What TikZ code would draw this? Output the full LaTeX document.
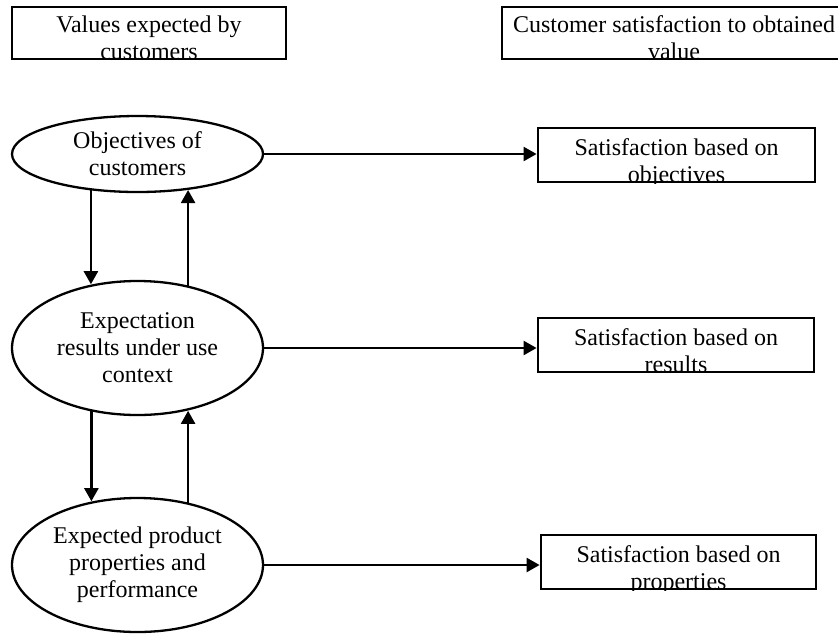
\documentclass[tikz,border=0pt]{standalone}
\usepackage{fontspec}
\setmainfont{Liberation Serif}
\usetikzlibrary{shapes.geometric,arrows.meta}
\begin{document}
\begin{tikzpicture}[x=1pt,y=1pt,
  every node/.style={font=\fontsize{24}{27}\selectfont},
  panel/.style={draw, line width=2.8pt, rectangle, inner sep=0pt},
  goal/.style={draw, ellipse, line width=2.3pt, inner sep=0pt, minimum width=251pt},
  caption/.style={align=center, inner sep=0pt, anchor=base},
  words/.style={align=center, inner sep=0pt},
  link/.style={line width=2.3pt, -{Triangle[length=13pt,width=14pt]}}]
\useasboundingbox (0,0) rectangle (838,-633);

% column headings
\node[panel, minimum width=274pt, minimum height=52pt] (vals) at (149,-33) {};
\node[panel, minimum width=344pt, minimum height=52pt] (sat) at (674,-33) {};
\begin{scope}
  \clip (vals.south west) rectangle (vals.north east);
  \node[caption] (valstext) at ([yshift=1pt]vals.south) {Values expected by\\customers};
\end{scope}
\begin{scope}
  \clip (sat.south west) rectangle (sat.north east);
  \node[caption] (sattext) at ([yshift=1pt]sat.south) {Customer satisfaction to obtained\\value};
\end{scope}

% expectation levels
\node[goal, minimum height=76pt] (obj) at (137.5,-154) {};
\node[words] (objtext) at (obj) {Objectives of\\customers};
\node[goal, minimum height=134pt] (exp) at (137.5,-348) {};
\node[words] (exptext) at (exp) {Expectation\\results under use\\context};
\node[goal, minimum height=134pt] (prod) at (137.5,-565) {};
\node[words] (prodtext) at (prod) {Expected product\\properties and\\performance};

% satisfaction boxes
\node[panel, minimum width=277pt, minimum height=54pt] (sobj) at (676.5,-155) {};
\node[panel, minimum width=276pt, minimum height=54pt] (sres) at (676,-345) {};
\node[panel, minimum width=275pt, minimum height=54pt] (sprop) at (678.5,-562) {};
\foreach \b/\t in {sobj/{Satisfaction based on\\objectives},
                   sres/{Satisfaction based on\\results},
                   sprop/{Satisfaction based on\\properties}}{
  \begin{scope}
    \clip (\b.south west) rectangle (\b.north east);
    \node[caption] (\b text) at ([yshift=1pt]\b.south) {\t};
  \end{scope}
}

% horizontal links
\draw[link] (obj.east) -- (obj.east -| sobj.west);
\draw[link] (exp.east) -- (exp.east -| sres.west);
\draw[link] (prod.east) -- (prod.east -| sprop.west);

% vertical links between levels
\draw[link] (obj.218.6) -- (obj.218.6 |- exp.125.4);
\draw[link] (exp.51.9) -- (exp.51.9 |- obj.324.1);
\draw[link] (exp.234.6) -- (exp.234.6 |- prod.125.4);
\draw[link] (prod.51.9) -- (prod.51.9 |- exp.308.1);
\end{tikzpicture}
\end{document}
